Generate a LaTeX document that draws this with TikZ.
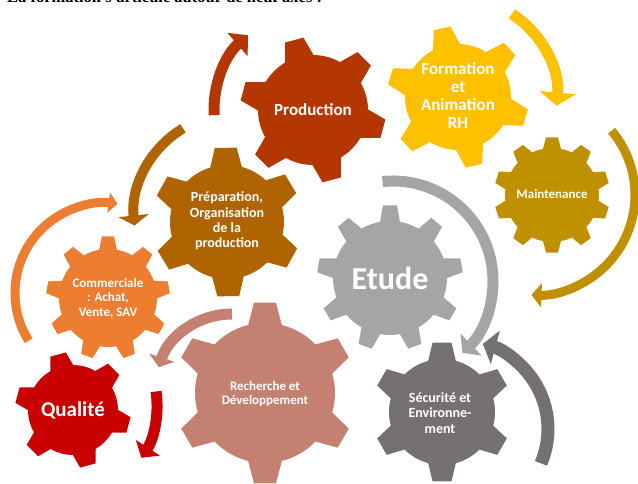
\documentclass[tikz,border=0pt]{standalone}
\usepackage{fontspec}
\setmainfont{Carlito}
\newfontfamily\titlefont{Liberation Serif}
\usetikzlibrary{arrows.meta,calc}
\definecolor{prodC}{HTML}{B43600}
\definecolor{formC}{HTML}{FFC000}
\definecolor{maintC}{HTML}{BF9000}
\definecolor{prepC}{HTML}{AE6400}
\definecolor{etudeC}{HTML}{A5A5A5}
\definecolor{commC}{HTML}{ED7D31}
\definecolor{rechC}{HTML}{C48172}
\definecolor{secC}{HTML}{767171}
\definecolor{qualC}{HTML}{C80000}
% #1 centre, #2 teeth, #3 body radius, #4 outer radius, #5 first tooth angle,
% #6 tip half width, #7 base half width, #8 colour
\newcommand{\drawgear}[8]{%
  \pgfmathsetmacro\gbb{#7/#3*57.2958}%
  \pgfmathsetmacro\gbt{#6/#4*57.2958}%
  \pgfmathsetmacro\gst{360/#2}%
  \pgfmathtruncatemacro\gnm{#2-1}%
  \fill[#8,shift={(#1)}] ({#5-\gbb}:#3) \foreach \i in {0,...,\gnm} {
    -- ({#5+\i*\gst-\gbt}:#4) -- ({#5+\i*\gst+\gbt}:#4) -- ({#5+\i*\gst+\gbb}:#3)
    arc[start angle={#5+\i*\gst+\gbb}, end angle={#5+(\i+1)*\gst-\gbb}, radius=#3]
  } -- cycle;
}
\tikzset{
  gtext/.style={text=white, align=center, inner sep=0pt},
  cyc/.style={line width=#1}
}
\begin{document}
\begin{tikzpicture}[x=1pt,y=1pt]
\useasboundingbox (0,0) rectangle (638,484);
\fill[white] (0,0) rectangle (638,484);
\begin{scope}
\clip (0,0) rectangle (638,484);
\node[anchor=base west, inner sep=0pt, font=\titlefont\bfseries\fontsize{16.5}{18}\selectfont] (title) at (7,481) {La formation s'articule autour de neuf axes :};
\end{scope}
% gear centres
\coordinate (prod) at (313,374);
\coordinate (form) at (458,387);
\coordinate (maint) at (552,289);
\coordinate (prep) at (227,262);
\coordinate (etude) at (390,206);
\coordinate (comm) at (108,186);
\coordinate (rech) at (265,91);
\coordinate (sec) at (442,72);
\coordinate (qual) at (73,74);
% gears
\drawgear{prod}{6}{55}{73}{105}{9.5}{15}{prodC}
\drawgear{form}{6}{53}{71}{103}{8.5}{14}{formC}
\drawgear{maint}{10}{47}{58}{90}{6}{9}{maintC}
\drawgear{prep}{6}{57}{75}{91}{11}{16}{prepC}
\drawgear{etude}{9}{57}{73}{90}{7}{10}{etudeC}
\drawgear{comm}{9}{49}{62}{90}{6}{9}{commC}
\drawgear{rech}{6}{70}{91}{90}{11}{17}{rechC}
\drawgear{sec}{6}{53}{70}{90}{9.5}{14}{secC}
\drawgear{qual}{6}{45}{58}{105}{8}{12}{qualC}
% arc centres of the circular arrows
\coordinate (aprod) at (313,374);
\coordinate (aform) at (458,387);
\coordinate (amaint) at (535,289);
\coordinate (aprep) at (235,269);
\coordinate (acomm) at (105,191);
\coordinate (aetude) at (393,203);
\coordinate (asec) at (460,55);
\coordinate (arech) at (232,93);
\coordinate (aqual) at (60,79);
% circular arrows
\draw[cyc=11pt, prodC, -{Triangle[width=30pt,length=14pt]}] ($(aprod)+(183:99)$) arc[start angle=183, end angle=131, radius=99];
\draw[cyc=11pt, formC, -{Triangle[width=36pt,length=13pt]}] ($(aform)+(57:99)$) arc[start angle=57, end angle=-5, radius=99];
\draw[cyc=9pt, maintC, -{Triangle[width=24pt,length=10pt]}] ($(amaint)+(40:100)$) arc[start angle=40, end angle=-92, radius=100];
\draw[cyc=10pt, prepC, -{Triangle[width=30pt,length=10pt]}] ($(aprep)+(121:101)$) arc[start angle=121, end angle=186, radius=101];
\draw[cyc=9pt, commC, -{Triangle[width=20pt,length=9pt]}] ($(acomm)+(212:90)$) arc[start angle=212, end angle=82, radius=90];
\draw[cyc=11pt, etudeC, -{Triangle[width=30pt,length=12pt]}] ($(aetude)+(96:100)$) arc[start angle=96, end angle=-46, radius=100];
\draw[cyc=13pt, secC, -{Triangle[width=34pt,length=13pt]}] ($(asec)+(-23:88)$) arc[start angle=-23, end angle=75, radius=88];
\draw[cyc=11pt, rechC, -{Triangle[width=26pt,length=10pt]}] ($(arech)+(90:77)$) arc[start angle=90, end angle=162, radius=77];
\draw[cyc=11pt, qualC, -{Triangle[width=28pt,length=12pt]}] ($(aqual)+(8:97)$) arc[start angle=8, end angle=-33, radius=97];
% labels
\node[gtext, font=\bfseries\fontsize{17}{18}\selectfont] (tprod) at (prod) {Production};
\node[gtext, font=\bfseries\fontsize{17}{18}\selectfont] (tform) at (458,388.5) {Formation\\et\\Animation\\RH};
\node[gtext, font=\bfseries\fontsize{13}{14}\selectfont] (tmaint) at (552,290) {Maintenance};
\node[gtext, font=\bfseries\fontsize{14}{15.3}\selectfont] (tprep) at (227,263) {Préparation,\\Organisation\\de la\\production};
\node[gtext, font=\bfseries\fontsize{32}{34}\selectfont] (tetude) at (etude) {Etude};
\node[gtext, font=\bfseries\fontsize{13}{14.5}\selectfont] (tcomm) at (comm) {Commerciale\\: Achat,\\Vente, SAV};
\node[gtext, font=\bfseries\fontsize{13}{14}\selectfont] (trech) at (265,90.5) {Recherche et\\Développement};
\node[gtext, font=\bfseries\fontsize{14}{15.5}\selectfont] (tsec) at (440,71) {Sécurité et\\Environne-\\ment};
\node[gtext, font=\bfseries\fontsize{21}{23}\selectfont] (tqual) at (qual) {Qualité};
\end{tikzpicture}
\end{document}
